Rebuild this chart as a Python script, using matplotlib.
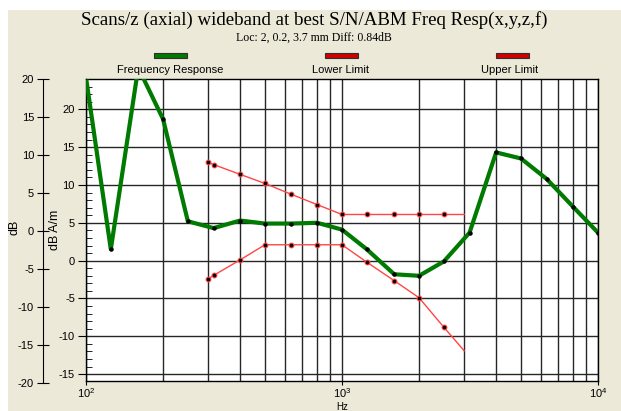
import numpy as np
import matplotlib
matplotlib.use("Agg")
import matplotlib.pyplot as plt
from matplotlib.ticker import MultipleLocator, FixedLocator, NullFormatter
from matplotlib.patches import Rectangle

# frequency response (dB A/m) at third-octave points
resp_hz = [100, 125, 160, 200, 250, 315, 400, 500, 630, 800, 1000, 1250,
           1600, 2000, 2500, 3150, 4000, 5000, 6300, 8000, 10000]
resp_db = [24.2, 1.5, 25.5, 18.7, 5.2, 4.3, 5.3, 4.9, 4.9, 5.0, 4.1, 1.5,
           -1.8, -2.0, -0.1, 3.7, 14.3, 13.5, 10.8, 7.1, 3.7]

limit_hz = [300, 315, 400, 500, 630, 800, 1000, 1250, 1600, 2000, 2500, 3000]
upper_db = [13.0, 12.7, 11.4, 10.2, 8.8, 7.4, 6.1, 6.1, 6.1, 6.1, 6.1, 6.1]
lower_db = [-2.4, -1.95, 0.1, 2.1, 2.1, 2.1, 2.1, -0.2, -2.65, -4.9, -8.8, -11.9]

title = "Scans/z (axial) wideband at best S/N/ABM Freq Resp(x,y,z,f)"
subtitle = "Loc: 2, 0.2, 3.7 mm Diff: 0.84dB"
legend_labels = ["Frequency Response", "Lower Limit", "Upper Limit"]

BG = "#ECE9D8"
GREEN = "#007A00"
RED = "#FF4545"
GRID = "#262626"
W, H = 621, 411

plt.rcParams["font.family"] = ["Liberation Sans", "DejaVu Sans"]
plt.rcParams["font.size"] = 8
plt.rcParams["axes.unicode_minus"] = False

fig = plt.figure(figsize=(W / 100, H / 100), dpi=100, facecolor="white")
# beige panel, with a thin white strip on the top and left edges
fig.patches.append(Rectangle((8 / W, 0), 1, (H - 10) / H, transform=fig.transFigure,
                             facecolor=BG, edgecolor="none", zorder=-10))

# main plot area
ax = fig.add_axes([86 / W, 1 - 381 / H, 512 / W, 302 / H])
ax.set_facecolor("white")
ax.set_xscale("log")
ax.set_xlim(100, 10000)
ax.set_ylim(-15.9, 24)

ax.plot(resp_hz, resp_db, color=GREEN, lw=3, zorder=4, solid_joinstyle="round")
ax.plot(resp_hz, resp_db, ls="none", marker="o", ms=2.2, color="black", zorder=5)
for vals in (upper_db, lower_db):
    ax.plot(limit_hz, vals, color=RED, lw=1, zorder=3)
    ax.plot(limit_hz[:-1], vals[:-1], ls="none", marker="o", ms=3.2,
            color=RED, mec=RED, zorder=5)
    ax.plot(limit_hz[:-1], vals[:-1], ls="none", marker="o", ms=1.6,
            color="black", zorder=6)

ax.yaxis.set_major_locator(FixedLocator([-15, -10, -5, 0, 5, 10, 15, 20]))
ax.yaxis.set_minor_locator(MultipleLocator(1))
ax.xaxis.set_minor_formatter(NullFormatter())
ax.grid(True, which="both", axis="x", color=GRID, lw=1)
ax.grid(True, which="major", axis="y", color=GRID, lw=1)
ax.set_axisbelow(True)
ax.tick_params(axis="y", which="major", direction="out", length=6, pad=2)
ax.tick_params(axis="y", which="minor", direction="in", length=4)
ax.tick_params(axis="x", which="major", direction="out", length=3, pad=1)
ax.tick_params(axis="x", which="minor", length=0)
ax.tick_params(top=False, right=False)
for s in ax.spines.values():
    s.set_color("black")
    s.set_linewidth(1)
ax.set_ylabel("dB A/m", fontsize=9)
ax.yaxis.set_label_coords(-25 / 512, 0.5)
ax.set_xlabel("Hz", fontsize=7)
ax.xaxis.set_label_coords(0.5, -21 / 302)

# outer dB scale
ax2 = fig.add_axes([43 / W, 1 - 383 / H, 0.001, 304 / H])
ax2.set_ylim(-20, 20)
ax2.yaxis.set_major_locator(MultipleLocator(5))
ax2.set_xticks([])
ax2.patch.set_alpha(0)
for k in ("top", "right", "bottom"):
    ax2.spines[k].set_visible(False)
ax2.tick_params(axis="y", direction="inout", length=9, pad=2)
fig.text(15 / W, 1 - 227 / H, "dB", rotation=90, ha="center", va="center",
         fontsize=9)

# titles
fig.text(314 / W, 1 - 20 / H, title, ha="center", va="center",
         family="Liberation Serif", fontsize=13.6)
fig.text(314 / W, 1 - 38 / H, subtitle, ha="center", va="center",
         family="Liberation Serif", fontsize=8.5)

# legend above the plot
bar_x = [154, 325, 496]
text_x = [170, 341, 510]
colors = [GREEN, "#D00000", "#D00000"]
for bx, tx, c, lab in zip(bar_x, text_x, colors, legend_labels):
    fig.patches.append(Rectangle((bx / W, 1 - 58 / H), 33 / W, 5 / H,
                                 transform=fig.transFigure, facecolor=c,
                                 edgecolor="#303030", lw=0.8))
    fig.text(tx / W, 1 - 70 / H, lab, ha="center", va="center", fontsize=8)

fig.savefig("out.png", dpi=100, facecolor="white")
